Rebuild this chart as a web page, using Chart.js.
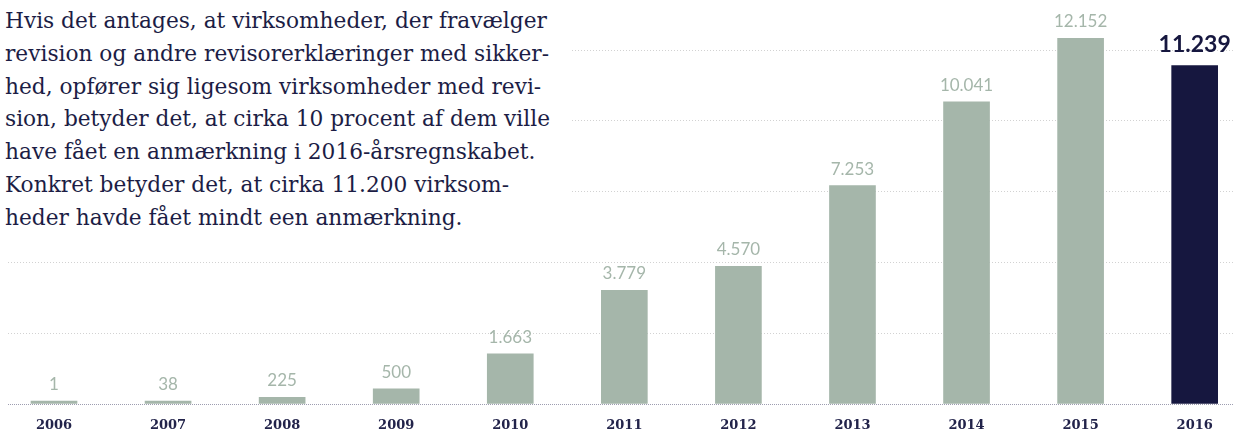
<!DOCTYPE html>
<html>
<head>
<meta charset="utf-8">
<script src="https://cdn.jsdelivr.net/npm/chart.js@4/dist/chart.umd.min.js"></script>
<style>
  html, body { margin: 0; padding: 0; background: #ffffff; }
  #wrap { position: relative; width: 1235px; height: 430px; }
  #c { position: absolute; left: 0; top: 0; }
  #note {
    position: absolute; left: 0; top: 0; width: 572px; height: 244px;
    background: #ffffff; z-index: 2;
    font-family: "DejaVu Serif", serif; font-size: 21.7px; line-height: 32.8px;
    color: #1c1d45; padding: 5px 0 0 5px; box-sizing: border-box; white-space: nowrap;
  }
</style>
</head>
<body>
<div id="wrap">
  <canvas id="c" width="1235" height="430"></canvas>
  <div id="note">Hvis det antages, at virksomheder, der fravælger<br>revision og andre revisorerklæringer med sikker-<br>hed, opfører sig ligesom virksomheder med revi-<br>sion, betyder det, at cirka 10 procent af dem ville<br>have fået en anmærkning i 2016-årsregnskabet.<br>Konkret betyder det, at cirka 11.200 virksom-<br>heder havde fået mindt een anmærkning.</div>
</div>
<script>
const years = ["2006","2007","2008","2009","2010","2011","2012","2013","2014","2015","2016"];
const values = [1, 38, 225, 500, 1663, 3779, 4570, 7253, 10041, 12152, 11239];
const valueLabels = ["1","38","225","500","1.663","3.779","4.570","7.253","10.041","12.152","11.239"];
const gridTicks = [0, 2352, 4704, 7056, 9408, 11760];

const GREEN = "#a5b6aa";
const NAVY = "#16173f";

const labelPlugin = {
  id: "valueLabels",
  afterDatasetsDraw(chart) {
    const ctx = chart.ctx;
    const meta = chart.getDatasetMeta(0);
    ctx.save();
    ctx.textAlign = "center";
    ctx.textBaseline = "alphabetic";
    meta.data.forEach((bar, i) => {
      const last = i === values.length - 1;
      if (last) {
        ctx.font = "bold 23px Lato";
        ctx.fillStyle = NAVY;
        ctx.fillText(valueLabels[i], bar.x, bar.y - 14);
      } else {
        ctx.font = "17px Lato";
        ctx.fillStyle = GREEN;
        ctx.fillText(valueLabels[i], bar.x, bar.y - 11);
      }
    });
    ctx.restore();
  }
};

new Chart(document.getElementById("c"), {
  type: "bar",
  data: {
    datasets: [{
      data: values.map((v, i) => ({ x: i, y: v })),
      backgroundColor: values.map((v, i) => i === values.length - 1 ? NAVY : GREEN),
      barThickness: 46,
      minBarLength: 3,
      borderWidth: 0
    }]
  },
  options: {
    responsive: false,
    animation: false,
    events: [],
    layout: { padding: { top: 12, left: 8, right: 2, bottom: 0 } },
    plugins: { legend: { display: false }, tooltip: { enabled: false } },
    scales: {
      x: {
        type: "linear",
        offset: false,
        min: -0.4033,
        max: 10.336,
        grid: { display: false, drawTicks: false, offset: false },
        border: { display: false },
        afterBuildTicks: (s) => { s.ticks = years.map((y, i) => ({ value: i })); },
        afterFit: (s) => { s.height = 26; },
        ticks: {
          autoSkip: false,
          maxRotation: 0,
          padding: 14,
          color: "#22234a",
          font: { family: "DejaVu Serif", weight: "bold", size: 13 },
          callback: (v) => years[v]
        }
      },
      y: {
        min: 0,
        max: 13023,
        display: true,
        afterBuildTicks: (s) => { s.ticks = gridTicks.map(v => ({ value: v })); },
        afterFit: (s) => { s.width = 0; },
        ticks: { display: false },
        grid: {
          drawTicks: false,
          lineWidth: 1,
          color: (c) => (c.tick && c.tick.value === 0) ? "#9d9db0" : "#d2d2d2"
        },
        border: { display: false, dash: (c) => (c.tick && c.tick.value === 0) ? [1, 1] : [1, 2] }
      }
    }
  },
  plugins: [labelPlugin]
});
</script>
</body>
</html>
